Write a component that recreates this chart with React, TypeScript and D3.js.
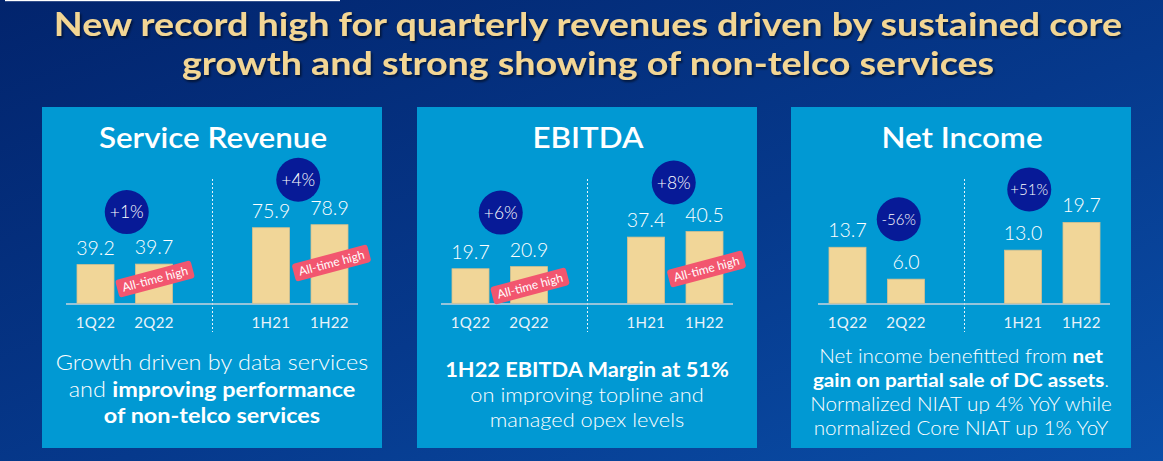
import React from "react";
import * as d3 from "d3";

// ---------- DATA ----------
const categories = ["1Q22", "2Q22", "1H21", "1H22"];
const serviceRevenue = [39.2, 39.7, 75.9, 78.9];
const ebitda = [19.7, 20.9, 37.4, 40.5];
const netIncome = [13.7, 6.0, 13.0, 19.7];

const serviceRevenueGrowth = ["+1%", "+4%"];
const ebitdaGrowth = ["+6%", "+8%"];
const netIncomeGrowth = ["-56%", "+51%"];

const serviceRevenueRecord = [false, true, false, true];
const ebitdaRecord = [false, true, false, true];
const netIncomeRecord = [false, false, false, false];

const panelTitles = ["Service Revenue", "EBITDA", "Net Income"];
const titleLines = [
  "New record high for quarterly revenues driven by sustained core",
  "growth and strong showing of non-telco services",
];
const recordLabel = "All-time high";

type Seg = { t: string; b?: boolean };
const serviceRevenueNote: Seg[][] = [
  [{ t: "Growth driven by data services" }],
  [{ t: "and " }, { t: "improving performance", b: true }],
  [{ t: "of non-telco services", b: true }],
];
const ebitdaNote: Seg[][] = [
  [{ t: "1H22 EBITDA Margin at 51%", b: true }],
  [{ t: "on improving topline and" }],
  [{ t: "managed opex levels" }],
];
const netIncomeNote: Seg[][] = [
  [{ t: "Net income benefitted from " }, { t: "net", b: true }],
  [{ t: "gain on partial sale of DC assets", b: true }, { t: "." }],
  [{ t: "Normalized NIAT up 4% YoY while" }],
  [{ t: "normalized Core NIAT up 1% YoY" }],
];

// ---------- LAYOUT / STYLE ----------
const W = 1163;
const H = 461;
const FONT = "Lato, 'Noto Sans', sans-serif";
const PANEL_W = 340;
const PANEL_Y = 107;
const PANEL_H = 341;
const STRETCH_TITLE = 1.14;
const STRETCH_HEAD = 1.12;
const STRETCH_NOTE = 1.09;

const panels = [
  {
    x: 42, shift: 0, values: serviceRevenue, growth: serviceRevenueGrowth, record: serviceRevenueRecord,
    note: serviceRevenueNote, yMax: 99.5,
    bubble: [[2, 52], [-2, 45]], tag: [[1, 25], [2, 41]],
    noteY: 370, noteGap: 26.5, noteSize: 21.5,
  },
  {
    x: 417, shift: 0, values: ebitda, growth: ebitdaGrowth, record: ebitdaRecord,
    note: ebitdaNote, yMax: 55.9,
    bubble: [[1, 54], [-1.5, 49]], tag: [[1, 18], [2, 35]],
    noteY: 377, noteGap: 25, noteSize: 20,
  },
  {
    x: 791, shift: 3, values: netIncome, growth: netIncomeGrowth, record: netIncomeRecord,
    note: netIncomeNote, yMax: 24.15,
    bubble: [[22, 28], [-23, 33]], tag: [[0, 0], [0, 0]],
    noteY: 363, noteGap: 24, noteSize: 19,
  },
];

const AXIS_Y = 197; // relative to panel top
const PLOT_H = 100;
const BAR_W = 37;
const fmt = d3.format(".1f");

function Panel({ p, idx }: { p: (typeof panels)[number]; idx: number }) {
  const slots = [categories[0], categories[1], "__gap", categories[2], categories[3]];
  const x = d3.scalePoint<string>().domain(slots).range([53.5 + p.shift, 287.5 + p.shift]);
  const y = d3.scaleLinear().domain([0, p.yMax]).range([AXIS_Y, AXIS_Y - PLOT_H]);
  const divX = x("__gap")!;
  const pairs = [
    [0, 1],
    [2, 3],
  ];
  return (
    <g transform={`translate(${p.x},${PANEL_Y})`}>
      <rect width={PANEL_W} height={PANEL_H} fill="#0199d3" />
      <g transform={`translate(${PANEL_W / 2 + 1},41) scale(${STRETCH_HEAD},1)`}>
        <text
          x={0}
          y={0}
          textAnchor="middle"
          fill="#ffffff"
          fontFamily={FONT}
          fontWeight={600}
          fontSize={28}
        >
          {panelTitles[idx]}
        </text>
      </g>
      {/* divider */}
      <line x1={divX} x2={divX} y1={72} y2={225} stroke="#e6f3fb" strokeWidth={1} strokeDasharray="2,2" />
      {/* axis line */}
      <line x1={24 + p.shift} x2={316 + p.shift} y1={AXIS_Y} y2={AXIS_Y} stroke="#c9d3dc" strokeWidth={1.5} />
      {/* bars */}
      {p.values.map((v, i) => {
        const cx = x(categories[i])!;
        return (
          <g key={categories[i]}>
            <rect
              x={cx - BAR_W / 2}
              y={y(v)}
              width={BAR_W}
              height={AXIS_Y - y(v) - 0.75}
              fill="#f1d698"
              stroke="#d6c08e"
              strokeWidth={0.8}
            />
            <text
              x={cx}
              y={y(v) - 10}
              textAnchor="middle"
              fill="#ffffff"
              fontFamily={FONT}
              fontWeight={300}
              fontSize={19.5}
            >
              {fmt(v)}
            </text>
            <text
              x={cx}
              y={AXIS_Y + 24}
              textAnchor="middle"
              fill="#e9f3fa"
              fontFamily={FONT}
              fontWeight={400}
              fontSize={15}
              letterSpacing={0.3}
            >
              {categories[i]}
            </text>
          </g>
        );
      })}
      {/* growth bubbles */}
      {pairs.map(([a, b], k) => {
        const mx = (x(categories[a])! + x(categories[b])!) / 2 + p.bubble[k][0];
        const top = Math.min(y(p.values[a]), y(p.values[b]));
        const my = top - p.bubble[k][1];
        const label = p.growth[k];
        return (
          <g key={"b" + k}>
            <circle cx={mx} cy={my} r={22} fill="#071a97" />
            <text
              x={mx}
              y={my}
              dy="0.35em"
              textAnchor="middle"
              fill="#ffffff"
              fontFamily={FONT}
              fontWeight={300}
              fontSize={label.length > 3 ? 15 : 17.5}
            >
              {label}
            </text>
          </g>
        );
      })}
      {/* all-time high tags */}
      {p.values.map((v, i) => {
        if (!p.record[i]) return null;
        const k = i === 1 ? 0 : 1;
        const tx = x(categories[i])! + p.tag[k][0];
        const ty = AXIS_Y - p.tag[k][1];
        return (
          <g key={"t" + i} transform={`translate(${tx},${ty}) rotate(-15)`}>
            <rect x={-39} y={-9} width={78} height={18} rx={3} fill="#f2566f" />
            <text
              x={0}
              y={0}
              dy="0.35em"
              textAnchor="middle"
              fill="#ffffff"
              fontFamily={FONT}
              fontWeight={400}
              fontSize={12}
            >
              {recordLabel}
            </text>
          </g>
        );
      })}
      {/* note text */}
      {p.note.map((line, li) => (
        <g
          key={"n" + li}
          transform={`translate(${PANEL_W / 2},${p.noteY - PANEL_Y + li * p.noteGap}) scale(${STRETCH_NOTE},1)`}
        >
          <text
            x={0}
            y={0}
            textAnchor="middle"
            fill="#ffffff"
            fontFamily={FONT}
            fontSize={p.noteSize}
          >
            {line.map((s, si) => (
              <tspan key={si} fontWeight={s.b ? 700 : 300}>
                {s.t}
              </tspan>
            ))}
          </text>
        </g>
      ))}
    </g>
  );
}

export default function App() {
  return (
    <svg
      width={W}
      height={H}
      viewBox={`0 0 ${W} ${H}`}
      style={{ position: "absolute", left: 0, top: 0, display: "block" }}
    >
      <defs>
        <linearGradient id="bg" x1="0" y1="0" x2="1" y2="1">
          <stop offset="0" stopColor="#02246d" />
          <stop offset="0.55" stopColor="#06398c" />
          <stop offset="1" stopColor="#0a4ea8" />
        </linearGradient>
        <filter id="shadow" x="-5%" y="-20%" width="110%" height="150%">
          <feDropShadow dx="1.5" dy="2" stdDeviation="1" floodColor="#000" floodOpacity="0.55" />
        </filter>
      </defs>
      <rect width={W} height={H} fill="url(#bg)" />
      <rect x={5} y={0} width={335} height={1.2} fill="#ffffff" />
      <g filter="url(#shadow)">
        {titleLines.map((t, i) => (
          <g key={i} transform={`translate(588,${36 + i * 39}) scale(${STRETCH_TITLE},1)`}>
            <text
              x={0}
              y={0}
              textAnchor="middle"
              fill="#f3d694"
              fontFamily={FONT}
              fontWeight={700}
              fontSize={33}
            >
              {t}
            </text>
          </g>
        ))}
      </g>
      {panels.map((p, i) => (
        <Panel key={i} p={p} idx={i} />
      ))}
    </svg>
  );
}
